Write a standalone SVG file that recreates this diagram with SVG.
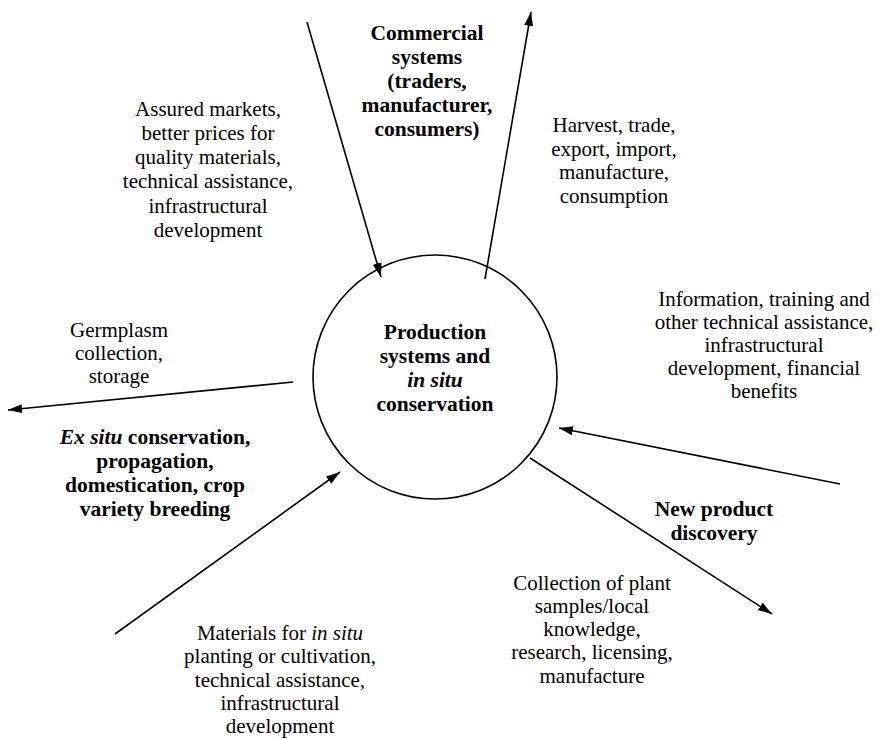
<svg xmlns="http://www.w3.org/2000/svg" width="893" height="740" viewBox="0 0 893 740">
<style>
text{font-family:"Liberation Serif","Times New Roman",serif;font-size:21px;fill:#000;text-anchor:middle}
.b{font-weight:bold;font-size:21.5px}
.i{font-style:italic}
.c{fill:none;stroke:#000;stroke-width:1.6}
</style>
<defs>
<marker id="ah" viewBox="0 0 14 10" refX="14" refY="5" markerWidth="14" markerHeight="10" markerUnits="userSpaceOnUse" orient="auto">
<path d="M0,0.5 L14,5 L0,9.5 Z" fill="#000"/>
</marker>
</defs>
<rect width="893" height="740" fill="#fff"/>
<g id="center">
<circle cx="435" cy="377" r="122" fill="none" stroke="#000" stroke-width="1.6"/>
<text class="b" x="435" y="339">Production</text>
<text class="b" x="435" y="363">systems and</text>
<text class="b i" x="435" y="387">in situ</text>
<text class="b" x="435" y="411">conservation</text>
</g>
<g id="commercial">
<text class="b" x="427" y="40">Commercial</text>
<text class="b" x="427" y="64">systems</text>
<text class="b" x="427" y="88">(traders,</text>
<text class="b" x="427" y="112">manufacturer,</text>
<text class="b" x="427" y="136">consumers)</text>
</g>
<g id="exsitu">
<text class="b" x="155" y="444"><tspan class="i">Ex situ</tspan> conservation,</text>
<text class="b" x="155" y="468">propagation,</text>
<text class="b" x="155" y="492">domestication, crop</text>
<text class="b" x="155" y="516">variety breeding</text>
</g>
<g id="newproduct">
<text class="b" x="714" y="516">New product</text>
<text class="b" x="714" y="540">discovery</text>
</g>
<g id="labels">
<text x="208" y="116">Assured markets,</text>
<text x="208" y="140">better prices for</text>
<text x="208" y="164">quality materials,</text>
<text x="208" y="188">technical assistance,</text>
<text x="208" y="213">infrastructural</text>
<text x="208" y="237">development</text>
<text x="614" y="132">Harvest, trade,</text>
<text x="614" y="156">export, import,</text>
<text x="614" y="179">manufacture,</text>
<text x="614" y="203">consumption</text>
<text x="764" y="306">Information, training and</text>
<text x="764" y="329">other technical assistance,</text>
<text x="764" y="352">infrastructural</text>
<text x="764" y="375">development, financial</text>
<text x="764" y="398">benefits</text>
<text x="119" y="337">Germplasm</text>
<text x="119" y="360">collection,</text>
<text x="119" y="383">storage</text>
<text x="592" y="590">Collection of plant</text>
<text x="592" y="613">samples/local</text>
<text x="592" y="636">knowledge,</text>
<text x="592" y="659">research, licensing,</text>
<text x="592" y="683">manufacture</text>
<text x="280" y="640">Materials for <tspan class="i">in situ</tspan></text>
<text x="280" y="663">planting or cultivation,</text>
<text x="280" y="687">technical assistance,</text>
<text x="280" y="710">infrastructural</text>
<text x="280" y="733">development</text>
</g>
<g id="connectors">
<line class="c" x1="307" y1="22" x2="381" y2="277" marker-end="url(#ah)"/>
<line class="c" x1="485" y1="279" x2="531" y2="12" marker-end="url(#ah)"/>
<line class="c" x1="293" y1="382" x2="8" y2="410" marker-end="url(#ah)"/>
<line class="c" x1="115" y1="634" x2="340" y2="472" marker-end="url(#ah)"/>
<line class="c" x1="840" y1="484" x2="559" y2="428" marker-end="url(#ah)"/>
<line class="c" x1="530" y1="458" x2="772" y2="614" marker-end="url(#ah)"/>
</g>
</svg>
